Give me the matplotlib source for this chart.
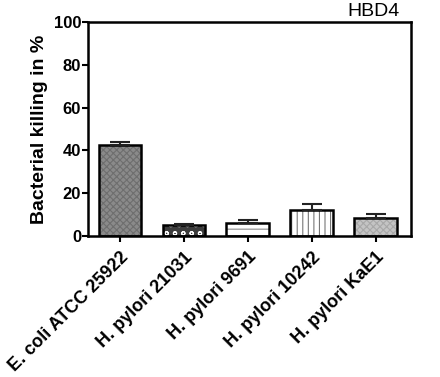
import numpy as np
import matplotlib.pyplot as plt

plt.rcParams['font.family'] = ['Liberation Sans', 'DejaVu Sans']
plt.rcParams['hatch.linewidth'] = 0.8

strains = ['E. coli ATCC 25922', 'H. pylori 21031', 'H. pylori 9691',
           'H. pylori 10242', 'H. pylori KaE1']
killing = [42.5, 5.0, 6.0, 12.0, 8.5]
err     = [1.5, 0.7, 1.5, 3.0, 2.0]

fills   = ['#8a8a8a', '#3c3c3c', '#ffffff', '#ffffff', '#c4c4c4']
hatches = ['xxxxx', 'oo', '--', '|||', 'xxxxx']
hcols   = ['#6e6e6e', '#ffffff', '#8a8a8a', '#777777', '#a8a8a8']

fig01 = plt.figure(figsize=(4.4, 3.77), dpi=100)
axs01 = fig01.add_axes([0.2, 0.374, 0.734, 0.568])

xpos = np.arange(len(strains))
for k in range(len(strains)):
  axs01.bar(xpos[k], killing[k], width=0.67, color=fills[k],
            hatch=hatches[k], edgecolor=hcols[k], lw=0, zorder=2)
  axs01.bar(xpos[k], killing[k], width=0.67, color='none',
            edgecolor='black', lw=1.8, zorder=3)
  axs01.errorbar(xpos[k], killing[k], yerr=[[0], [err[k]]], fmt='none',
                 ecolor='#222222', elinewidth=1.5, capsize=7, capthick=1.5,
                 zorder=4)

axs01.set_xlim(-0.5, 4.55)
axs01.set_ylim(0, 100)
axs01.set_yticks([0, 20, 40, 60, 80, 100])
axs01.set_xticks(xpos)
axs01.set_xticklabels(strains, rotation=45, ha='right', rotation_mode='anchor',
                      fontsize=13, fontweight='bold')
for lab in axs01.get_yticklabels():
  lab.set_fontweight('bold')
  lab.set_fontsize(12)
axs01.tick_params(direction='out', width=1.5, length=4, pad=1)
axs01.tick_params(axis='x', pad=5)

for sp in axs01.spines.values():
  sp.set_linewidth(1.8)

axs01.set_ylabel('Bacterial killing in %', fontsize=14, fontweight='bold',
                 labelpad=4)
axs01.text(0.965, 1.01, 'HBD4', transform=axs01.transAxes, ha='right',
           va='bottom', fontsize=14)

plt.savefig('out.png', dpi=100)
plt.close()
